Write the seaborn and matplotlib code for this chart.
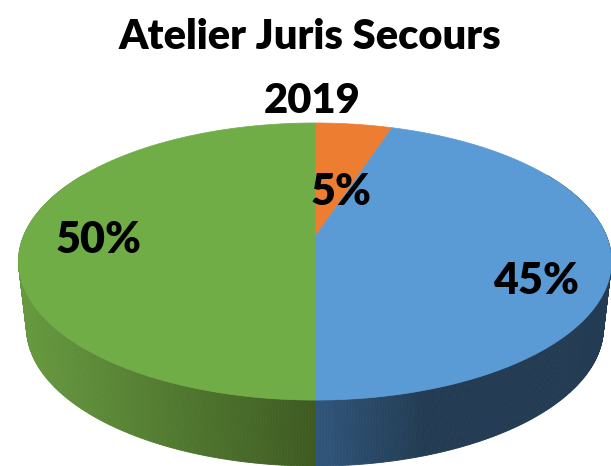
import numpy as np
import matplotlib
matplotlib.use("Agg")
import matplotlib.pyplot as plt
import seaborn as sns
from matplotlib.colors import to_rgb

# ---------------- data ----------------
title_lines = ["Atelier Juris Secours", "2019"]
shares = [5, 45, 50]
share_labels = ["5%", "45%", "50%"]
top_colors = ["#ED7D31", "#5B9BD5", "#70AD47"]
side_light = ["#B86024", "#31567C", "#66993F"]
side_dark = ["#7A3E14", "#233C53", "#3E5B22"]

# ---------------- layout / style ----------------
W, H = 611, 466
sns.set_theme(style="white")
plt.rcParams["font.family"] = ["Lato", "DejaVu Sans"]

fig = plt.figure(figsize=(W / 100, H / 100), dpi=100)
ax = fig.add_axes([0, 0, 1, 1])
ax.set_xlim(0, W)
ax.set_ylim(H, 0)
ax.axis("off")

CX, CY0 = 315.0, 237.0      # projected centre of the pie top
R, B, A = 291.8, 134.2, 0.177  # horizontal radius, vertical radius, perspective
DEPTH = 66.0
SHRINK = 0.973


def top_pt(theta, r=1.0):
    u = r * np.sin(theta)
    v = -r * np.cos(theta)
    s = 1.0 / (1.0 - A * v)
    return CX + R * u * s, CY0 + B * v * s


def bot_pt(theta):
    x, y = top_pt(theta)
    return CX + SHRINK * (x - CX), y + DEPTH


def lerp(c1, c2, t):
    a, b = np.array(to_rgb(c1)), np.array(to_rgb(c2))
    return tuple(a + (b - a) * t)


fr = np.array(shares, dtype=float) / np.sum(shares)
bounds = np.concatenate([[0], np.cumsum(fr)]) * 2 * np.pi

# ---------------- side wall ----------------
strips = []
for i in range(len(shares)):
    t0, t1 = bounds[i], bounds[i + 1]
    n = max(2, int(np.degrees(t1 - t0) / 0.5))
    ts = np.linspace(t0, t1, n + 1)
    for a0, a1 in zip(ts[:-1], ts[1:]):
        am = 0.5 * (a0 + a1)
        if np.cos(am) > 0.5:
            continue
        strips.append((np.cos(am), i, a0, a1))
strips.sort(key=lambda s: -s[0])
for _, i, a0, a1 in strips:
    p0, p1 = top_pt(a0), top_pt(a1)
    q0, q1 = bot_pt(a0), bot_pt(a1)
    xm = 0.5 * (p0[0] + p1[0])
    if xm >= CX:
        t = np.clip((xm - CX) / 110.0, 0, 1)
    else:
        t = 1 - np.clip((CX - xm) / 290.0, 0, 1)
    c = lerp(side_light[i], side_dark[i], t)
    ax.fill([p0[0], p1[0], q1[0], q0[0]], [p0[1], p1[1], q1[1], q0[1]],
            color=c, ec=c, lw=0.6, zorder=1)

# ---------------- top face ----------------
for i in range(len(shares)):
    ts = np.linspace(bounds[i], bounds[i + 1], 300)
    xs, ys = top_pt(ts)
    xs = np.concatenate([[CX], xs])
    ys = np.concatenate([[CY0], ys])
    ax.fill(xs, ys, color=top_colors[i], ec=top_colors[i], lw=0.5, zorder=2)

# ---------------- labels ----------------
label_r = [0.386, 0.75, 0.74]
label_dx = [10, 0, 0]
label_dy = [0, 25, 0]
for i, lab in enumerate(share_labels):
    mid = 0.5 * (bounds[i] + bounds[i + 1])
    x, y = top_pt(mid, label_r[i])
    ax.text(x + label_dx[i], y + label_dy[i] + 15.5, lab, ha="center", va="baseline",
            fontsize=31, fontweight="heavy", color="black", zorder=3)

# ---------------- title ----------------
ax.text(310, 49, title_lines[0], ha="center", va="baseline",
        fontsize=30, fontweight="heavy", color="black")
ax.text(312, 113, title_lines[1], ha="center", va="baseline",
        fontsize=30, fontweight="heavy", color="black")

fig.savefig("out.png", dpi=100, facecolor="white")
